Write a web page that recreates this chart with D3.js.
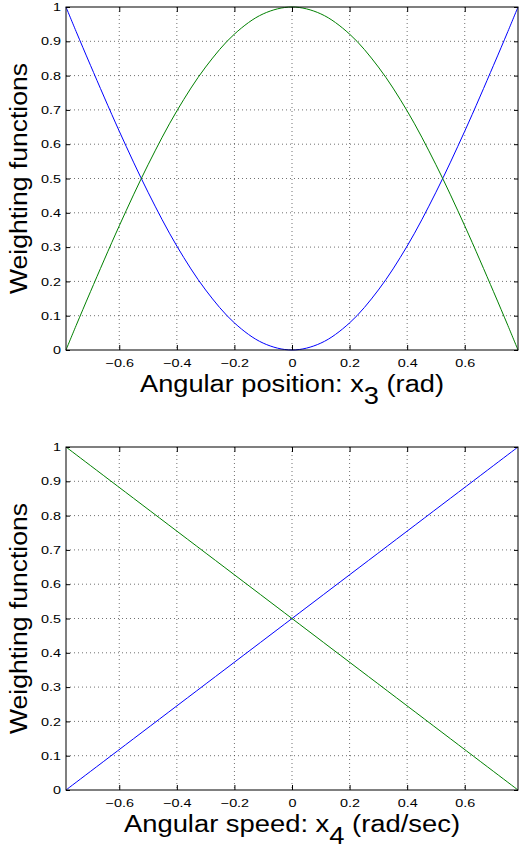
<!DOCTYPE html>
<html>
<head>
<meta charset="utf-8">
<script src="https://cdn.jsdelivr.net/npm/d3@7"></script>
<style>
  body { margin: 0; background: #fff; }
  svg { display: block; font-family: "Liberation Sans", Arial, Helvetica, sans-serif; }
</style>
</head>
<body>
<script>
// data
const posX     = [-0.785, -0.75, -0.7, -0.6, -0.5, -0.4, -0.3, -0.2, -0.1, 0, 0.1, 0.2, 0.3, 0.4, 0.5, 0.6, 0.7, 0.75, 0.785];
const posBlue  = [1, 0.929, 0.83, 0.638, 0.46, 0.303, 0.175, 0.079, 0.02, 0, 0.02, 0.079, 0.175, 0.303, 0.46, 0.638, 0.83, 0.929, 1];
const posGreen = [0, 0.071, 0.17, 0.362, 0.54, 0.697, 0.825, 0.921, 0.98, 1, 0.98, 0.921, 0.825, 0.697, 0.54, 0.362, 0.17, 0.071, 0];

const spdX     = [-0.785, 0, 0.785];
const spdBlue  = [0, 0.5, 1];
const spdGreen = [1, 0.5, 0];

const xTicks = [-0.6, -0.4, -0.2, 0, 0.2, 0.4, 0.6];
const yTicks = [0, 0.1, 0.2, 0.3, 0.4, 0.5, 0.6, 0.7, 0.8, 0.9, 1];
const xDomain = [-0.785, 0.785];

const W = 519, H = 849;
const left = 66, right = 518;

const svg = d3.select("body").append("svg").attr("width", W).attr("height", H);

const fmt = d => d === 0 ? "0" : (d < 0 ? "\u2212" + Math.abs(d) : String(d));

// the reference font is drawn wider than Helvetica: stretch text horizontally
function widen(sel, k) {
  sel.each(function () {
    const w = this.getComputedTextLength();
    if (w > 0) d3.select(this).attr("textLength", w * k).attr("lengthAdjust", "spacingAndGlyphs");
  });
}

function panel(top, bottom, xs, blue, green, labelMain, sub, labelTail, labelLen) {
  const x = d3.scaleLinear().domain(xDomain).range([left, right]);
  const y = d3.scaleLinear().domain([0, 1]).range([bottom, top]);
  const g = svg.append("g");

  // dotted grid
  g.append("g").selectAll("line").data(xTicks).join("line")
    .attr("x1", d => x(d)).attr("x2", d => x(d)).attr("y1", top).attr("y2", bottom)
    .attr("stroke", "#333").attr("stroke-width", 0.7).attr("stroke-dasharray", "1,3");
  g.append("g").selectAll("line").data(yTicks.slice(1, -1)).join("line")
    .attr("y1", d => y(d)).attr("y2", d => y(d)).attr("x1", left).attr("x2", right)
    .attr("stroke", "#333").attr("stroke-width", 0.7).attr("stroke-dasharray", "1,3");

  // curves
  const line = d3.line().x(d => x(d[0])).y(d => y(d[1])).curve(d3.curveCatmullRom);
  g.append("path").datum(xs.map((v, i) => [v, blue[i]]))
    .attr("d", line).attr("fill", "none").attr("stroke", "#0000ff").attr("stroke-width", 1);
  g.append("path").datum(xs.map((v, i) => [v, green[i]]))
    .attr("d", line).attr("fill", "none").attr("stroke", "#008000").attr("stroke-width", 1);

  // axes, ticks inward on all sides
  const ax = g.append("g");
  ax.append("g").attr("transform", `translate(0,${bottom})`)
    .call(d3.axisBottom(x).tickValues(xTicks).tickSize(-5).tickPadding(9).tickFormat(fmt));
  ax.append("g").attr("transform", `translate(0,${top})`)
    .call(d3.axisTop(x).tickValues(xTicks).tickSize(-5).tickFormat(""));
  ax.append("g").attr("transform", `translate(${left},0)`)
    .call(d3.axisLeft(y).tickValues(yTicks).tickSize(-4).tickPadding(5).tickFormat(d3.format("~g")));
  ax.append("g").attr("transform", `translate(${right},0)`)
    .call(d3.axisRight(y).tickValues(yTicks).tickSize(-4).tickFormat(""));
  ax.selectAll(".domain").remove();
  ax.selectAll("text").attr("fill", "#000")
    .style("font-size", "11.5px").style("font-family", "inherit");
  widen(ax.selectAll("text"), 1.25);
  ax.selectAll(".tick line").attr("stroke", "#000");

  g.append("rect").attr("x", left).attr("y", top).attr("width", right - left).attr("height", bottom - top)
    .attr("fill", "none").attr("stroke", "#000").attr("stroke-width", 1);

  // x label with subscript
  const t = g.append("text").attr("x", (left + right) / 2).attr("y", bottom + 41.7)
    .attr("text-anchor", "middle").attr("font-size", 23)
    .attr("textLength", labelLen).attr("lengthAdjust", "spacingAndGlyphs");
  t.append("tspan").text(labelMain);
  t.append("tspan").attr("dy", 12).text(sub);
  t.append("tspan").attr("dy", -12).text(labelTail);

  // y label
  g.append("text").attr("transform", `translate(27,${(top + bottom) / 2}) rotate(-90)`)
    .attr("text-anchor", "middle").attr("font-size", 23)
    .attr("textLength", 231).attr("lengthAdjust", "spacingAndGlyphs")
    .text("Weighting functions");
}

panel(7, 350, posX, posBlue, posGreen, "Angular position: x", "3", " (rad)", 304);
panel(447, 790, spdX, spdBlue, spdGreen, "Angular speed: x", "4", " (rad/sec)", 336);
</script>
</body>
</html>
